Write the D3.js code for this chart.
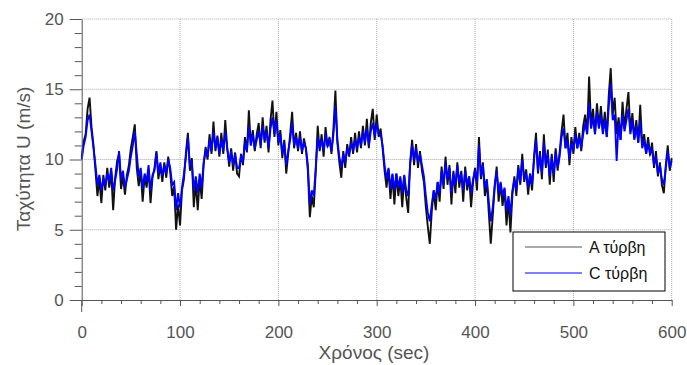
<!DOCTYPE html>
<html>
<head>
<meta charset="utf-8">
<script src="https://cdn.jsdelivr.net/npm/d3@7"></script>
<style>
  body { margin: 0; background: #fff; }
  text { font-family: "Liberation Sans", Arial, sans-serif; }
</style>
</head>
<body>
<div id="chart"></div>
<script>
// samples every 2 s, t = 0 .. 600
const timeStep = 2;
const seriesA = [
  10.2, 11.3, 11.8, 13.6, 14.4, 12.3, 11.0, 9.2, 7.4, 8.6,
  6.9, 8.9, 7.8, 9.4, 8.0, 9.1, 6.4, 8.7, 9.9, 10.4,
  7.9, 8.8, 7.5, 8.9, 9.6, 10.8, 11.6, 12.5, 9.4, 8.1,
  9.2, 7.0, 8.8, 8.0, 9.3, 6.9, 8.7, 9.4, 10.6, 8.6,
  9.6, 8.4, 9.8, 8.7, 10.2, 9.1, 7.4, 8.1, 5.0, 6.8,
  5.3, 7.8, 8.6, 10.5, 11.9, 9.2, 10.1, 6.6, 8.4, 6.4,
  8.6, 7.2, 9.6, 10.9, 10.0, 11.8, 10.4, 12.7, 10.6, 11.7,
  10.2, 11.9, 10.4, 12.8, 10.8, 9.5, 10.8, 9.2, 10.5, 9.0,
  8.8, 10.4, 9.6, 11.6, 10.5, 13.5, 11.0, 12.1, 10.6, 11.8,
  12.6, 10.8, 13.0, 11.2, 12.4, 10.5, 12.8, 14.2, 11.6, 13.4,
  11.0, 12.1, 10.1, 11.4, 9.0, 10.4, 11.8, 13.4, 10.8, 11.9,
  10.6, 12.0, 10.4, 11.5, 10.8, 9.2, 5.9, 7.4, 6.6, 9.1,
  12.4, 10.6, 11.8, 10.2, 12.3, 10.9, 11.6, 10.4, 12.2, 14.9,
  11.2, 9.8, 8.7, 10.6, 9.4, 11.1, 10.2, 11.6, 10.4, 11.9,
  10.5, 12.0, 10.8, 12.4, 11.0, 12.9, 10.8, 12.6, 13.6, 11.4,
  13.2, 11.6, 12.2, 10.8, 9.2, 8.0, 9.3, 7.2, 8.9, 6.8,
  9.0, 7.4, 8.6, 6.6, 8.8, 7.3, 6.2, 9.8, 11.4, 9.6,
  11.1, 9.4, 10.6, 9.2, 8.4, 6.6, 5.2, 4.0, 6.3, 7.8,
  6.4, 8.4, 7.0, 9.5, 7.9, 10.2, 8.2, 9.6, 6.8, 9.2,
  7.6, 9.8, 8.0, 9.2, 7.0, 9.5, 7.8, 8.8, 6.6, 8.4,
  9.4, 7.8, 11.6, 8.6, 9.8, 7.4, 8.4, 6.2, 4.0, 6.0,
  8.0, 9.5, 7.0, 8.3, 6.7, 7.9, 5.3, 7.1, 4.8, 7.5,
  8.8, 7.4, 9.6, 8.2, 10.4, 8.4, 9.3, 7.5, 9.0, 7.8,
  10.2, 11.9, 9.0, 10.6, 8.6, 11.8, 9.4, 10.7, 8.2, 10.4,
  8.4, 10.8, 9.2, 10.5, 12.0, 13.2, 10.8, 11.9, 9.6, 11.6,
  10.4, 12.3, 10.8, 11.9, 10.6, 12.4, 13.2, 11.8, 15.9, 12.4,
  13.6, 11.8, 14.0, 12.3, 13.8, 12.0, 13.4, 11.6, 14.6, 16.5,
  13.2, 14.4, 11.8, 13.0, 11.4, 14.1, 12.2, 13.6, 14.8, 12.0,
  13.3, 11.5, 12.8, 11.2, 13.9, 11.0, 11.8, 10.4, 11.6, 10.3,
  11.2, 9.4, 10.6, 8.8, 9.8, 8.2, 7.6, 9.6, 11.0, 9.2,
  10.1
];
const seriesC = [
  10.0, 11.0, 11.6, 12.8, 13.2, 12.0, 10.8, 9.6, 8.2, 8.9,
  7.8, 8.6, 8.2, 9.0, 8.4, 9.4, 7.8, 8.5, 9.3, 10.6,
  8.6, 9.2, 8.0, 8.6, 9.2, 10.2, 11.0, 12.0, 10.4, 8.8,
  9.4, 7.9, 9.0, 8.4, 9.6, 7.8, 8.9, 9.2, 10.5, 9.0,
  9.8, 8.8, 9.6, 9.0, 10.0, 9.4, 8.2, 8.4, 6.4, 7.6,
  6.6, 8.0, 9.0, 10.2, 11.6, 9.6, 9.8, 7.8, 8.8, 7.6,
  9.0, 8.0, 9.8, 10.6, 10.2, 11.4, 10.6, 12.0, 10.8, 11.6,
  10.4, 11.4, 10.6, 12.0, 10.8, 9.8, 10.6, 9.6, 10.4, 9.4,
  9.4, 10.2, 9.8, 11.2, 10.6, 12.4, 11.0, 11.8, 10.8, 11.4,
  12.0, 11.0, 12.4, 11.4, 12.0, 10.8, 12.2, 13.0, 11.8, 12.8,
  11.2, 11.8, 10.4, 11.2, 9.6, 10.6, 11.4, 12.6, 11.0, 11.6,
  10.8, 11.6, 10.6, 11.2, 10.8, 9.6, 6.8, 7.8, 7.4, 9.4,
  11.6, 10.8, 11.4, 10.6, 11.8, 11.0, 11.4, 10.6, 11.8, 13.8,
  11.4, 10.2, 9.4, 10.4, 9.8, 10.8, 10.4, 11.2, 10.6, 11.4,
  10.8, 11.6, 11.0, 12.0, 11.2, 12.2, 11.0, 12.0, 12.6, 11.6,
  12.6, 11.8, 11.8, 11.0, 9.6, 8.6, 9.4, 7.9, 9.0, 7.8,
  9.0, 8.0, 8.8, 7.6, 8.9, 7.8, 7.4, 9.6, 11.0, 10.0,
  10.8, 9.8, 10.4, 9.6, 8.8, 7.4, 6.2, 5.6, 6.8, 7.8,
  7.2, 8.4, 7.6, 9.2, 8.2, 9.8, 8.6, 9.4, 7.6, 9.0,
  8.2, 9.6, 8.4, 9.0, 7.8, 9.2, 8.2, 8.8, 7.6, 8.6,
  9.2, 8.4, 11.0, 8.8, 9.6, 8.0, 8.6, 7.0, 5.6, 6.6,
  8.2, 9.2, 7.6, 8.4, 7.4, 8.0, 6.4, 7.4, 6.0, 7.8,
  8.6, 7.8, 9.4, 8.4, 10.0, 8.6, 9.0, 8.0, 9.0, 8.2,
  10.0, 11.4, 9.2, 10.4, 9.0, 11.2, 9.6, 10.4, 8.8, 10.2,
  9.0, 10.6, 9.4, 10.2, 11.6, 12.2, 10.8, 11.4, 10.0, 11.2,
  10.6, 11.8, 10.8, 11.6, 10.8, 11.8, 12.6, 11.8, 14.0, 12.2,
  13.0, 11.8, 13.4, 12.2, 13.2, 11.8, 12.8, 11.6, 13.8, 15.4,
  12.8, 13.2, 9.9, 12.6, 11.4, 13.2, 12.0, 12.8, 13.6, 11.8,
  12.8, 11.4, 12.4, 11.2, 12.8, 10.8, 11.4, 10.4, 11.2, 10.4,
  10.8, 9.6, 10.2, 9.0, 9.6, 8.6, 8.2, 9.4, 10.6, 9.4,
  9.9
];
const seriesNames = ["A τύρβη", "C τύρβη"];
const seriesColors = ["#111", "#0000ff"];
const xTicks = [0, 100, 200, 300, 400, 500, 600];
const yTicks = [0, 5, 10, 15, 20];

const width = 687, height = 365;
const svg = d3.select("#chart").append("svg")
  .attr("width", width)
  .attr("height", height);

const x = d3.scaleLinear().domain([0, 600]).range([81.7, 671.7]);
const y = d3.scaleLinear().domain([0, 20]).range([300, 19]);
const axisColor = "#555";

// grid
svg.append("g").selectAll("line")
  .data(yTicks.filter(d => d > 0))
  .join("line")
  .attr("x1", x(0)).attr("x2", x(600))
  .attr("y1", d => y(d)).attr("y2", d => y(d))
  .attr("stroke", "#aaa").attr("stroke-dasharray", "1,1");
svg.append("g").selectAll("line")
  .data(xTicks.filter(d => d > 0))
  .join("line")
  .attr("x1", d => x(d)).attr("x2", d => x(d))
  .attr("y1", y(0)).attr("y2", y(20))
  .attr("stroke", "#aaa").attr("stroke-dasharray", "1,1");

// series
const line = d3.line()
  .x((d, i) => x(i * timeStep))
  .y(d => y(d));
[seriesA, seriesC].forEach((s, i) => {
  svg.append("path")
    .datum(s)
    .attr("d", line)
    .attr("fill", "none")
    .attr("stroke", seriesColors[i])
    .attr("stroke-width", 1.9)
    .attr("stroke-linejoin", "miter");
});

// y axis
svg.append("g").attr("transform", `translate(${x(0)},0)`)
  .call(d3.axisLeft(y).tickValues(yTicks).tickSize(12).tickPadding(6).tickSizeOuter(0));
svg.append("g").attr("transform", `translate(${x(0)},0)`)
  .call(d3.axisLeft(y).tickValues(d3.range(0, 21, 1).filter(d => d % 5)).tickSize(7).tickFormat("").tickSizeOuter(0))
  .call(g => g.select(".domain").remove());

// x axis
svg.append("g").attr("transform", `translate(0,${y(0)})`)
  .call(d3.axisBottom(x).tickValues(xTicks).tickSize(6).tickPadding(20).tickSizeOuter(0));
svg.append("g").attr("transform", `translate(0,${y(0)})`)
  .call(d3.axisBottom(x).tickValues(d3.range(0, 601, 20).filter(d => d % 100)).tickSize(4).tickFormat("").tickSizeOuter(0))
  .call(g => g.select(".domain").remove());

svg.selectAll(".tick line").attr("stroke", axisColor);
svg.selectAll(".domain").attr("stroke", axisColor);
svg.selectAll(".tick text").attr("fill", axisColor)
  .style("font-size", "17px").style("font-family", "Liberation Sans, Arial, sans-serif");

// axis line extends a little below the x axis
svg.append("line")
  .attr("x1", x(0)).attr("x2", x(0))
  .attr("y1", y(0)).attr("y2", y(0) + 12)
  .attr("stroke", axisColor);

// axis titles
svg.append("text")
  .attr("x", 374).attr("y", 359)
  .attr("text-anchor", "middle")
  .attr("fill", axisColor)
  .style("font-size", "19px")
  .text("Χρόνος (sec)");
svg.append("text")
  .attr("transform", "translate(30,159) rotate(-90)")
  .attr("text-anchor", "middle")
  .attr("fill", axisColor)
  .style("font-size", "19px")
  .text("Ταχύτητα U (m/s)");

// legend
const legend = svg.append("g").attr("transform", "translate(513,232)");
legend.append("rect")
  .attr("width", 152).attr("height", 59)
  .attr("fill", "#fff").attr("stroke", "#000");
seriesNames.forEach((name, i) => {
  const ly = 15 + i * 26;
  legend.append("line")
    .attr("x1", 12).attr("x2", 69)
    .attr("y1", ly).attr("y2", ly)
    .attr("stroke", i === 0 ? "#555" : seriesColors[i]);
  legend.append("text")
    .attr("x", 76).attr("y", ly + 6)
    .attr("fill", "#111")
    .style("font-size", "16px")
    .text(name);
});
</script>
</body>
</html>
